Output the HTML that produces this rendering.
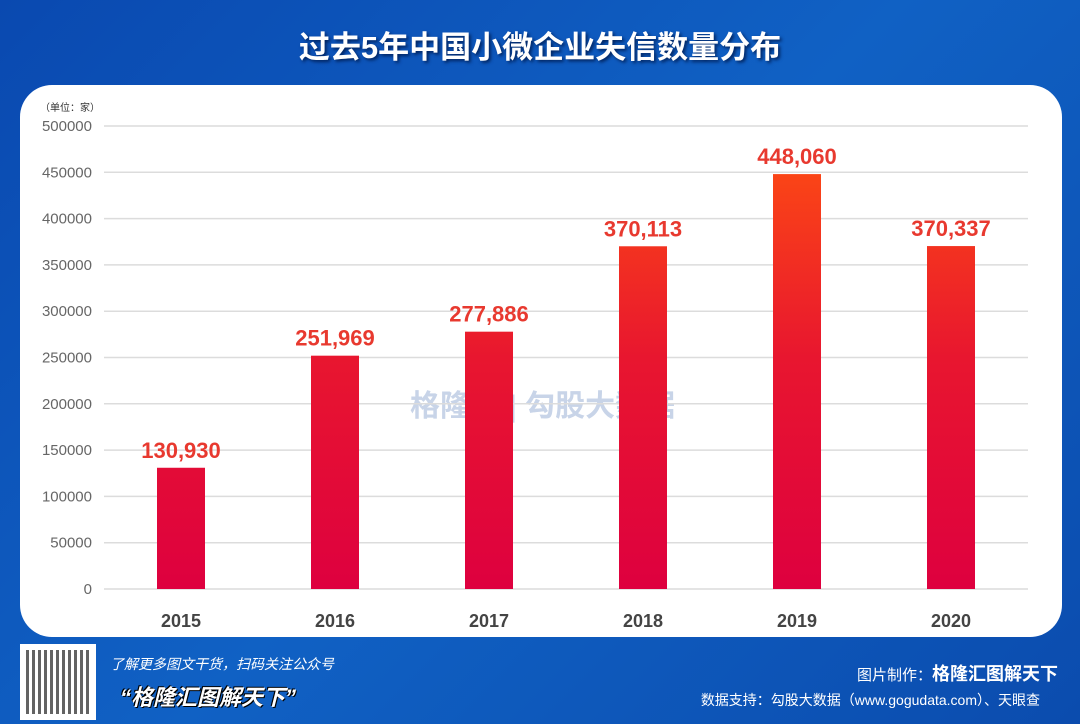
<!DOCTYPE html>
<html><head><meta charset="utf-8"><style>
body{margin:0;width:1080px;height:724px;overflow:hidden;font-family:"Liberation Sans","Noto Sans CJK SC",sans-serif;}
#bg{position:absolute;left:0;top:0;width:1080px;height:724px;background:linear-gradient(135deg,#0a49b0 0%,#1061c4 50%,#0b4cae 100%);}
#panel{position:absolute;left:20px;top:85px;width:1042px;height:552px;background:#fff;border-radius:32px;}
#title{position:absolute;top:22px;width:1080px;text-align:center;color:#fff;font-size:31px;font-weight:bold;text-shadow:2px 2px 3px #02245f;}
.ft{position:absolute;color:#fff;}
</style></head><body>
<div id="bg"></div>
<div id="title">过去5年中国小微企业失信数量分布</div>
<div id="panel"></div>
<svg id="chart" width="1080" height="724" style="position:absolute;left:0;top:0">
<defs><linearGradient id="g" gradientUnits="userSpaceOnUse" x1="0" y1="589" x2="0" y2="127"><stop offset="0" stop-color="#de003f"/><stop offset="0.5" stop-color="#e8162f"/><stop offset="1" stop-color="#ff5010"/></linearGradient></defs>
<text x="40" y="111" font-size="10" fill="#333">（单位：家）</text>
<text x="410" y="416" font-size="30" fill="#c8d4e8" font-weight="bold">格隆汇 | 勾股大数据</text>
</svg>
<div class="ft" style="left:20px;top:644px;width:76px;height:76px;background:#fff"><div style="position:absolute;left:6px;top:6px;width:64px;height:64px;background:repeating-linear-gradient(90deg,#222 0 3px,#fff 3px 6px),#222;opacity:.7"></div></div>
<div class="ft" style="left:110px;top:654px;font-size:14px;font-style:italic">了解更多图文干货，扫码关注公众号</div>
<div class="ft" style="left:120px;top:680px;font-size:22px;font-weight:bold;font-style:italic;text-shadow:1px 1px 0 #000,-1px -1px 0 #000">“格隆汇图解天下”</div>
<div class="ft" style="right:22px;top:660px;font-size:15px">图片制作：<b style="font-size:18px">格隆汇图解天下</b></div>
<div class="ft" style="right:40px;top:690px;font-size:14px">数据支持：勾股大数据（www.gogudata.com）、天眼查</div>
<script>
const categories=["2015","2016","2017","2018","2019","2020"];
const values=[130930,251969,277886,370113,448060,370337];
const valueLabels=["130,930","251,969","277,886","370,113","448,060","370,337"];
const yTicks=[0,50000,100000,150000,200000,250000,300000,350000,400000,450000,500000];
const svg=document.getElementById('chart');const NS='http://www.w3.org/2000/svg';
const y=v=>589-v*(463/500000);const x=i=>181+i*154;
function mk(t,a,txt){const e=document.createElementNS(NS,t);for(const k in a)e.setAttribute(k,a[k]);if(txt!==undefined)e.textContent=txt;svg.appendChild(e);return e;}
yTicks.forEach(v=>{
 const l=mk('line',{x1:104,x2:1028,y1:y(v),y2:y(v),stroke:'#dcdcdc','stroke-width':1.5});
 
 
 const t=mk('text',{x:92,y:y(v)+5,'text-anchor':'end','font-size':15,fill:'#666'},String(v));
 
 
});
categories.forEach((c,i)=>{
 const r=mk('rect',{x:x(i)-24,y:y(values[i]),width:48,height:589-y(values[i]),fill:'url(#g)'});
 
 
 const t=mk('text',{x:x(i),y:y(values[i])-10,'text-anchor':'middle','font-size':22,'font-weight':'bold',fill:'#e8392f'},valueLabels[i]);
 
 
 const k=mk('text',{x:x(i),y:627,'text-anchor':'middle','font-size':18,'font-weight':'bold',fill:'#444'},c);
 
 
});
</script>
</body></html>
